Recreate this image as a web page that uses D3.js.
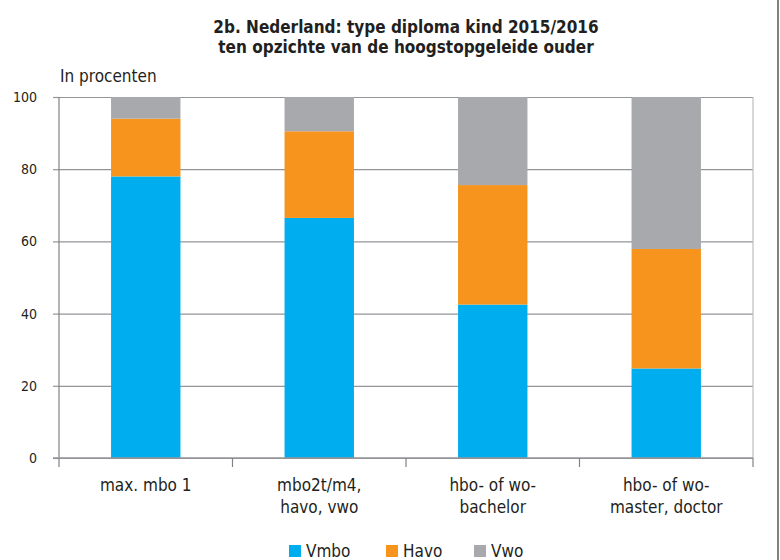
<!DOCTYPE html>
<html>
<head>
<meta charset="utf-8">
<script src="https://cdn.jsdelivr.net/npm/d3@7"></script>
<style>
  body { margin: 0; background: #fff; }
  text { font-family: "Liberation Sans Narrow", "DejaVu Sans Condensed", "Open Sans", sans-serif; fill: #231f20; }
</style>
</head>
<body>
<div id="chart"></div>
<script>
// Chart data
var categories = [["max. mbo 1"], ["mbo2t/m4,", "havo, vwo"], ["hbo- of wo-", "bachelor"], ["hbo- of wo-", "master, doctor"]];
var seriesNames = ["Vmbo", "Havo", "Vwo"];
var vmbo = [78, 66.5, 42.5, 24.8];
var havo = [16, 24, 33.1, 33.1];
var vwo = [6, 9.5, 24.4, 42.1];
var yTicks = [0, 20, 40, 60, 80, 100];
var colors = ["#00aeef", "#f7941d", "#a7a9ac"];

var svgWidth = 780;
var svgHeight = 560;
var margin = { top: 97, bottom: 102, left: 59, right: 27 };
var width = svgWidth - margin.left - margin.right;
var height = svgHeight - margin.top - margin.bottom;

var svg = d3.select("#chart")
    .append("svg")
    .attr("width", svgWidth)
    .attr("height", svgHeight);

// Title
svg.append("text")
    .attr("x", margin.left + width / 2)
    .attr("y", 33)
    .attr("text-anchor", "middle")
    .style("font-size", "17px")
    .style("font-weight", "bold")
    .text("2b. Nederland: type diploma kind 2015/2016");
svg.append("text")
    .attr("x", margin.left + width / 2)
    .attr("y", 53)
    .attr("text-anchor", "middle")
    .style("font-size", "17px")
    .style("font-weight", "bold")
    .text("ten opzichte van de hoogstopgeleide ouder");

svg.append("text")
    .attr("x", 60)
    .attr("y", 82)
    .style("font-size", "17px")
    .text("In procenten");

// Frame line on the right
svg.append("line")
    .attr("x1", 778).attr("x2", 778)
    .attr("y1", 0).attr("y2", svgHeight)
    .attr("stroke", "#58595b")
    .attr("stroke-width", 1.5);

var chartGroup = svg.append("g")
    .attr("transform", `translate(${margin.left}, ${margin.top})`);

// Build stacked rows
var rows = categories.map(function (c, i) {
    return { idx: i, Vmbo: vmbo[i], Havo: havo[i], Vwo: vwo[i] };
});
var stacked = d3.stack().keys(seriesNames)(rows);

var xScale = d3.scaleBand()
    .domain(d3.range(categories.length))
    .range([0, width])
    .paddingInner(0.6)
    .paddingOuter(0.3);
var xBand = d3.scaleBand()
    .domain(d3.range(categories.length))
    .range([0, width]);
var yScale = d3.scaleLinear()
    .domain([0, 100])
    .range([height, 0]);

// Grid lines
chartGroup.append("g")
    .call(d3.axisLeft(yScale).tickValues(yTicks).tickSize(-width).tickFormat(""))
    .call(g => g.select(".domain").remove())
    .call(g => g.selectAll(".tick line").attr("stroke", "#939598").attr("stroke-width", 1.2));

// Right vertical line
chartGroup.append("line")
    .attr("x1", width).attr("x2", width)
    .attr("y1", 0).attr("y2", height)
    .attr("stroke", "#bcbec0")
    .attr("stroke-width", 1.2);

// Bars
chartGroup.selectAll(".series")
    .data(stacked)
    .enter()
    .append("g")
    .attr("fill", (d, i) => colors[i])
    .selectAll("rect")
    .data(d => d)
    .enter()
    .append("rect")
    .attr("x", d => xScale(d.data.idx))
    .attr("y", d => yScale(d[1]))
    .attr("width", xScale.bandwidth())
    .attr("height", d => yScale(d[0]) - yScale(d[1]));

// Y axis
var leftAxis = d3.axisLeft(yScale).tickValues(yTicks).tickSize(6).tickPadding(16);
chartGroup.append("g")
    .call(leftAxis)
    .call(g => g.select(".domain").remove())
    .call(g => g.selectAll(".tick line").attr("stroke", "#939598").attr("stroke-width", 1.2))
    .call(g => g.selectAll(".tick text").style("font-size", "14px").attr("fill", "#231f20"));

chartGroup.append("line")
    .attr("x1", 0).attr("x2", 0)
    .attr("y1", 0).attr("y2", height + 9)
    .attr("stroke", "#808285")
    .attr("stroke-width", 1.2);

// Baseline and category ticks
chartGroup.append("line")
    .attr("x1", -6).attr("x2", width)
    .attr("y1", height).attr("y2", height)
    .attr("stroke", "#939598")
    .attr("stroke-width", 1.5);
chartGroup.selectAll(".cattick")
    .data(d3.range(1, categories.length + 1))
    .enter()
    .append("line")
    .attr("x1", d => d * xBand.bandwidth())
    .attr("x2", d => d * xBand.bandwidth())
    .attr("y1", height)
    .attr("y2", height + 9)
    .attr("stroke", "#808285")
    .attr("stroke-width", 1.2);

// Category labels
var catLabels = chartGroup.selectAll(".catlabel")
    .data(categories)
    .enter()
    .append("text")
    .attr("text-anchor", "middle")
    .attr("transform", (d, i) => `translate(${xBand(i) + xBand.bandwidth() / 2}, ${height + 33})`)
    .style("font-size", "17px");
catLabels.selectAll("tspan")
    .data(d => d)
    .enter()
    .append("tspan")
    .attr("x", 0)
    .attr("dy", (d, i) => i === 0 ? 0 : 22)
    .text(d => d);

// Legend
var legendX = [289, 386, 474];
var legend = svg.selectAll(".legend")
    .data(seriesNames)
    .enter()
    .append("g")
    .attr("transform", (d, i) => `translate(${legendX[i]}, 545)`);
legend.append("rect")
    .attr("width", 12)
    .attr("height", 12)
    .attr("fill", (d, i) => colors[i]);
legend.append("text")
    .attr("x", 17)
    .attr("y", 12)
    .style("font-size", "17px")
    .text(d => d);
</script>
</body>
</html>
